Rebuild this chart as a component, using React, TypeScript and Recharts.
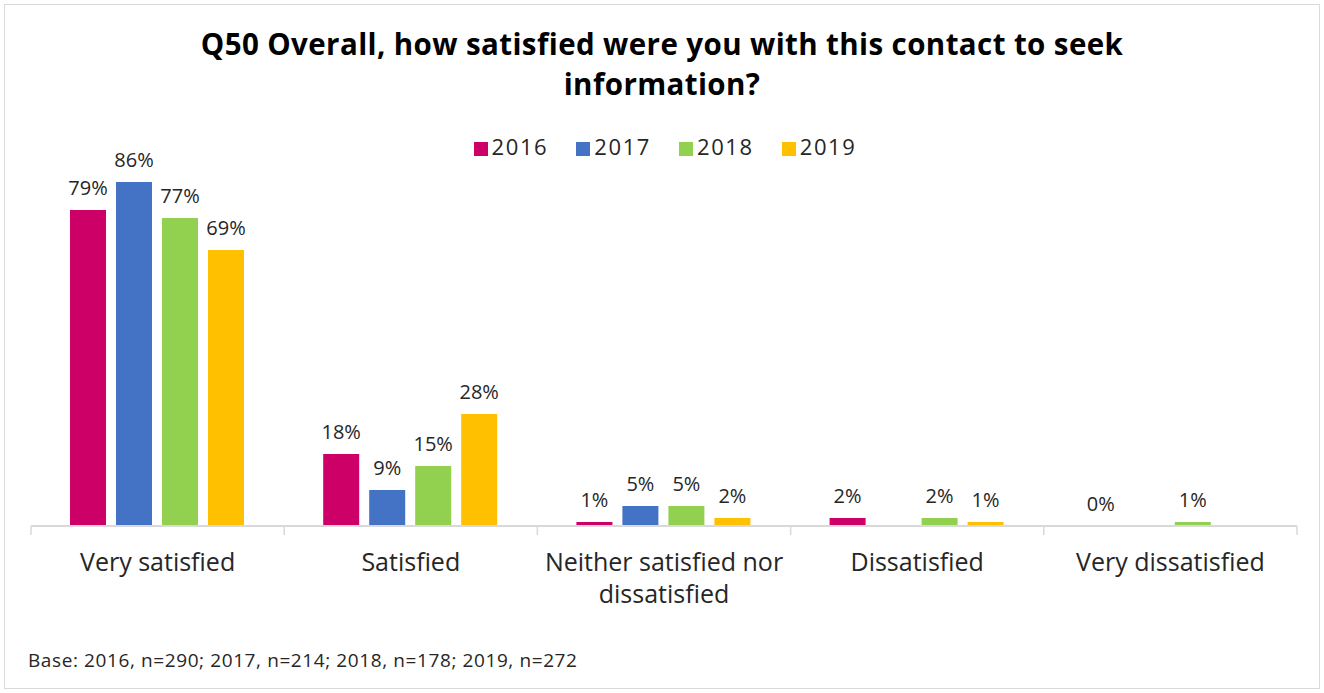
import React from 'react';
import { BarChart, Bar, XAxis, YAxis, Legend, LabelList } from 'recharts';

const categories = [
  'Very satisfied',
  'Satisfied',
  'Neither satisfied nor dissatisfied',
  'Dissatisfied',
  'Very dissatisfied',
];
const years = ['2016', '2017', '2018', '2019'];
const v2016 = [79, 18, 1, 2, 0];
const v2017 = [86, 9, 5, null, null];
const v2018 = [77, 15, 5, 2, 1];
const v2019 = [69, 28, 2, 1, null];
const colors = ['#CC0066', '#4472C4', '#92D050', '#FFC000'];

const seriesValues = [v2016, v2017, v2018, v2019];
const data = categories.map((name, i) => {
  const row: Record<string, string | number | null> = { name };
  years.forEach((y, s) => {
    row[y] = seriesValues[s][i];
  });
  return row;
});

const FONT = '"Open Sans", "Noto Sans", sans-serif';
const TEXT = '#262626';
const W = 1324;
const H = 693;
const LEFT = 31;
const RIGHT = 27;
const BAND = (W - LEFT - RIGHT) / categories.length;

// greedy word wrap by character count
const wrap = (s: string, maxChars: number) => {
  const lines: string[] = [];
  let cur = '';
  s.split(' ').forEach((w) => {
    const next = cur ? `${cur} ${w}` : w;
    if (next.length > maxChars && cur) {
      lines.push(cur);
      cur = w;
    } else {
      cur = next;
    }
  });
  if (cur) lines.push(cur);
  return lines;
};

const CategoryTick = (props: any) => {
  const { x, y, payload, index } = props;
  const half = BAND / 2;
  const lines = wrap(String(payload.value), 22);
  return (
    <g>
      <line x1={x - half} y1={y - 8} x2={x - half} y2={y + 1} stroke="#d9d9d9" strokeWidth={1.5} />
      {index === categories.length - 1 && (
        <line x1={x + half} y1={y - 8} x2={x + half} y2={y + 1} stroke="#d9d9d9" strokeWidth={1.5} />
      )}
      <text
        x={x}
        y={y + 37}
        textAnchor="middle"
        style={{ fontFamily: FONT, fontSize: 25, fill: TEXT }}
      >
        {lines.map((l, i) => (
          <tspan key={i} x={x} dy={i === 0 ? 0 : 32}>
            {l}
          </tspan>
        ))}
      </text>
    </g>
  );
};

// custom label so that a 0% value still gets its text
const BarLabel = (props: any) => {
  const { x, y, width, value } = props;
  if (value === null || value === undefined) return null;
  return (
    <text
      x={x + width / 2}
      y={y - 15}
      textAnchor="middle"
      style={{ fontFamily: FONT, fontSize: 20, fill: TEXT }}
    >
      {`${value}%`}
    </text>
  );
};

export default function App() {
  return (
    <div
      style={{
        position: 'absolute',
        left: 0,
        top: 0,
        width: W,
        height: H,
        background: '#fff',
        fontFamily: FONT,
      }}
    >
      <div
        style={{
          position: 'absolute',
          left: 4,
          top: 4,
          width: W - 8,
          height: H - 8,
          border: '1.5px solid #d9d9d9',
          boxSizing: 'border-box',
        }}
      />
      <div
        style={{
          position: 'absolute',
          left: 0,
          top: 24,
          width: W,
          textAlign: 'center',
          fontSize: 29.5,
          fontWeight: 700,
          color: '#000',
          lineHeight: '40px',
          letterSpacing: 0.4,
        }}
      >
        Q50 Overall, how satisfied were you with this contact to seek
        <br />
        information?
      </div>
      <BarChart
        width={W}
        height={H}
        data={data}
        margin={{ top: 96, right: RIGHT, left: LEFT, bottom: 107 }}
        barCategoryGap={39}
        barGap={10}
        style={{ position: 'absolute', left: 0, top: 0 }}
      >
        <XAxis
          dataKey="name"
          axisLine={{ stroke: '#d9d9d9', strokeWidth: 2 }}
          tickLine={false}
          tick={<CategoryTick />}
          interval={0}
          height={60}
        />
        <YAxis hide domain={[0, 100]} />
        <Legend
          verticalAlign="top"
          align="center"
          iconType="square"
          iconSize={14}
          wrapperStyle={{ position: 'absolute', top: 131, left: 17, width: W, fontSize: 22, fontFamily: FONT }}
          formatter={(value: string) => (
            <span style={{ color: TEXT, marginRight: 18, letterSpacing: 1.6 }}>{value}</span>
          )}
        />
        {years.map((y, s) => (
          <Bar key={y} dataKey={y} fill={colors[s]} minPointSize={0.01} isAnimationActive={false}>
            <LabelList dataKey={y} content={<BarLabel />} />
          </Bar>
        ))}
      </BarChart>
      <div
        style={{
          position: 'absolute',
          left: 28,
          top: 647,
          fontSize: 19,
          color: TEXT,
          letterSpacing: 0.6,
        }}
      >
        Base: 2016, n=290; 2017, n=214; 2018, n=178; 2019, n=272
      </div>
    </div>
  );
}
